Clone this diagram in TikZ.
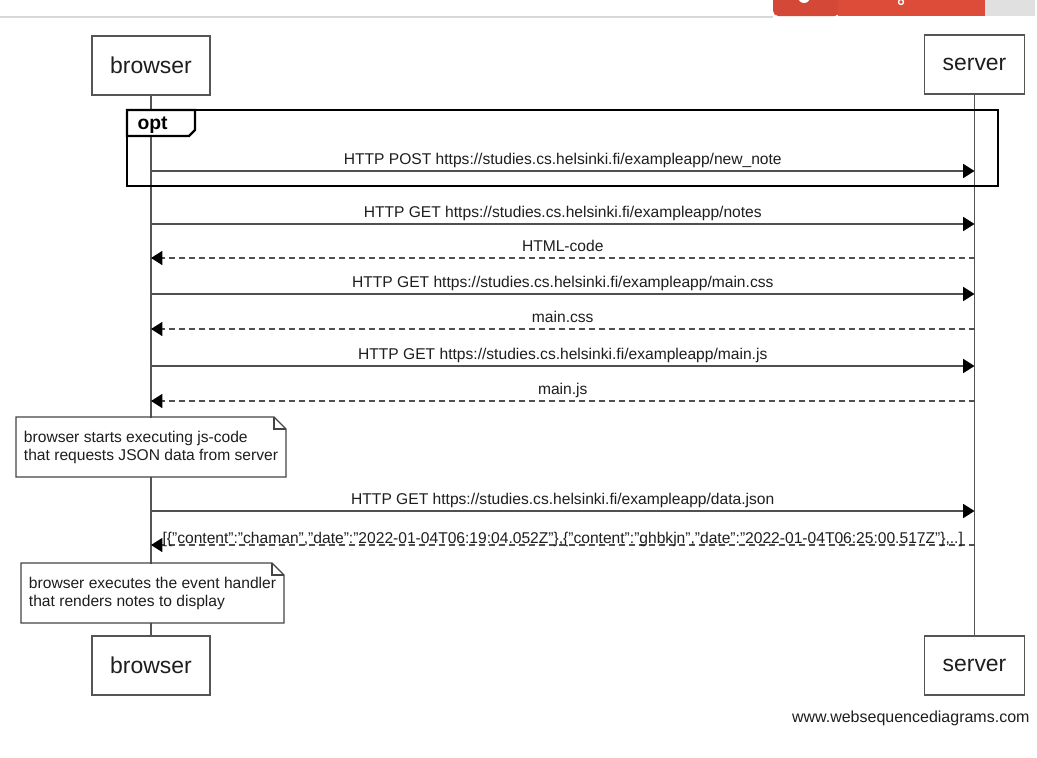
\documentclass[tikz,border=0pt]{standalone}
\usepackage{fontspec}
\setmainfont{Liberation Sans}
\usetikzlibrary{arrows.meta,positioning,calc}

\tikzset{every picture/.style={line width=0.75pt}}
\tikzset{
  actor/.style={draw={rgb, 255:red, 85; green, 85; blue, 85}, line width=1pt, fill=white, minimum height=44.25pt, inner xsep=13.6pt, text={rgb, 255:red, 30; green, 30; blue, 30}, font=\fontsize{17.2}{20}\selectfont},
  lifeline/.style={draw={rgb, 255:red, 85; green, 85; blue, 85}, line width=0.9pt},
  call/.style={draw={rgb, 255:red, 80; green, 80; blue, 80}, line width=1.1pt, -{Triangle[length=8.5pt,width=10.5pt,black]}},
  reply/.style={call, dash pattern=on 4.5pt off 3pt},
  msg/.style={anchor=south, inner xsep=0pt, inner ysep=1.7pt, text depth=2.8pt, text={rgb, 255:red, 30; green, 30; blue, 30}, font=\fontsize{11.7}{14}\selectfont},
  notebox/.style={fill=white, inner xsep=5.6pt, inner ysep=0pt, minimum height=44.25pt, align=left, text={rgb, 255:red, 30; green, 30; blue, 30}, font=\fontsize{11.7}{13.5}\selectfont},
  noteline/.style={draw={rgb, 255:red, 68; green, 68; blue, 68}, line width=0.9pt},
  optline/.style={draw=black, line width=1.6pt},
}

\begin{document}
\begin{tikzpicture}[x=0.75pt,y=0.75pt,yscale=-1,xscale=1]
\useasboundingbox (0,0) rectangle (1037,757);
\fill[white] (0,0) rectangle (1037,757);

%Page header (clipped button)
\fill[color={rgb, 255:red, 216; green, 216; blue, 216}] (0,16) rectangle (773,17.5);
\fill[color={rgb, 255:red, 211; green, 72; blue, 54}, rounded corners=4pt] (773,-8) -- (773,16) -- (840,16) -- (840,-8) -- cycle;
\fill[color={rgb, 255:red, 221; green, 75; blue, 57}] (838,0) rectangle (985,16);
\fill[color={rgb, 255:red, 224; green, 224; blue, 224}] (985,0) rectangle (1035,16);
\fill[white] (804,-3) circle (6);
\draw[white, line width=1pt] (901,2) circle (2.5);

%Participants
\node[actor] (btop) at (151,65.5) {browser};
\node[actor] (stop) at (974.5,64.5) {server};
\node[actor] (bbot) at (151,665.5) {browser};
\node[actor] (sbot) at (974.5,665.5) {server};

%Lifelines
\draw[lifeline] (btop) -- (bbot);
\draw[lifeline] (stop) -- (sbot);

%Message rows
\foreach \i/\y in {1/171,2/224,3/258,4/294,5/329,6/366,7/401,8/511,9/545}{
  \coordinate (b\i) at (151,\y);
  \coordinate (s\i) at (974.5,\y);
}

%opt frame
\draw[optline] (127,110) rectangle (998,186);
\draw[optline, fill=white] (127,110) -- (195,110) -- (195,130) -- (189,136) -- (127,136) -- cycle;
\node[anchor=base west, inner sep=0pt, font=\fontsize{14.5}{16}\selectfont\bfseries] (optlabel) at (137,129) {opt};

%Messages
\draw[call] (b1) -- node[msg] {HTTP POST https://studies.cs.helsinki.fi/exampleapp/new\_note} (s1);
\draw[call] (b2) -- node[msg] {HTTP GET https://studies.cs.helsinki.fi/exampleapp/notes} (s2);
\draw[reply] (s3) -- node[msg] {HTML-code} (b3);
\draw[call] (b4) -- node[msg] {HTTP GET https://studies.cs.helsinki.fi/exampleapp/main.css} (s4);
\draw[reply] (s5) -- node[msg] {main.css} (b5);
\draw[call] (b6) -- node[msg] {HTTP GET https://studies.cs.helsinki.fi/exampleapp/main.js} (s6);
\draw[reply] (s7) -- node[msg] {main.js} (b7);
\draw[call] (b8) -- node[msg] {HTTP GET https://studies.cs.helsinki.fi/exampleapp/data.json} (s8);
\draw[reply] (s9) -- node[msg, inner ysep=0.75pt, text depth=0pt] {[\{"content":"chaman","date":"2022-01-04T06:19:04.052Z"\},\{"content":"ghbkjn","date":"2022-01-04T06:25:00.517Z"\},..]} (b9);

%Notes
\node[notebox, anchor=north west] (note1) at (16,417) {browser starts executing js-code\\that requests JSON data from server};
\draw[noteline] ($(note1.north east)+(-12,0)$) -- (note1.north west) -- (note1.south west) -- (note1.south east) -- ($(note1.north east)+(0,12)$) -- cycle;
\draw[noteline] ($(note1.north east)+(-12,0)$) -- ($(note1.north east)+(-12,12)$) -- ($(note1.north east)+(0,12)$);

\node[notebox, anchor=north west] (note2) at (21,563) {browser executes the event handler\\that renders notes to display};
\draw[noteline] ($(note2.north east)+(-12,0)$) -- (note2.north west) -- (note2.south west) -- (note2.south east) -- ($(note2.north east)+(0,12)$) -- cycle;
\draw[noteline] ($(note2.north east)+(-12,0)$) -- ($(note2.north east)+(-12,12)$) -- ($(note2.north east)+(0,12)$);

%Footer
\node[anchor=base east, inner sep=0pt, text={rgb, 255:red, 30; green, 30; blue, 30}, font=\fontsize{12}{14}\selectfont] (credit) at (1030,722) {www.websequencediagrams.com};

\end{tikzpicture}
\end{document}
